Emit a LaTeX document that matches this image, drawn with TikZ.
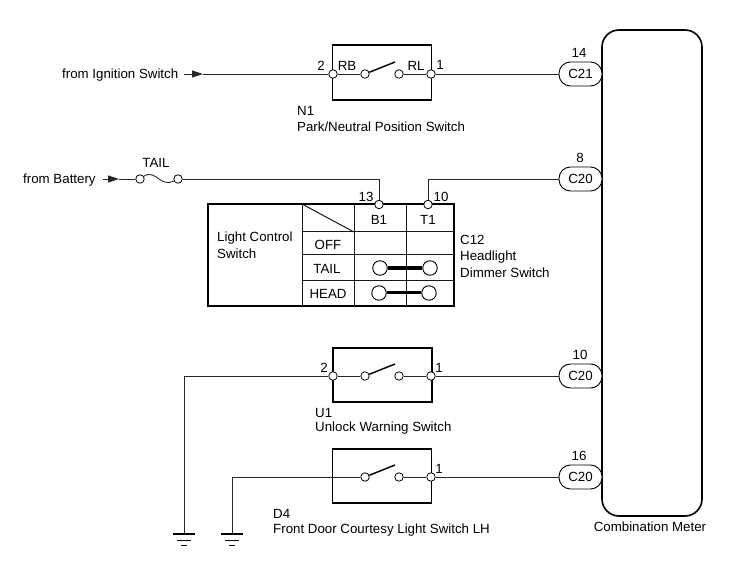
\documentclass[tikz,border=0pt]{standalone}
\usepackage{fontspec}
\setmainfont{Liberation Sans}
\usetikzlibrary{arrows.meta,calc}
\tikzset{
  wire/.style={line width=0.9pt,draw=black!85},
  heavy/.style={line width=1.6pt,draw=black},
  grid line/.style={line width=1pt,draw=black!90},
  term/.style={circle,draw=black,line width=0.8pt,fill=white,inner sep=0pt,minimum size=8.5pt},
  contact/.style={circle,draw=black,line width=0.8pt,fill=white,inner sep=0pt,minimum size=8.5pt},
  bigcontact/.style={circle,draw=black,line width=0.9pt,fill=white,inner sep=0pt,minimum size=14.5pt},
  txt/.style={inner sep=0pt,yshift=-0.6pt,font=\fontsize{13.3}{15}\selectfont},
  ltxt/.style={txt,anchor=west,yshift=-0.5pt},
  pill/.style={draw=black,line width=0.9pt,fill=white,rounded corners=11.5pt,minimum width=43pt,minimum height=24pt,inner sep=0pt,font=\fontsize{13.3}{15}\selectfont},
  blade/.style={line width=1.4pt,draw=black},
  swbox/.style={heavy,fill=white,minimum width=99pt,minimum height=54.5pt,inner sep=0pt,draw},
  arrowtip/.style={wire,-{Triangle[length=11pt,width=7pt]}}
}
\begin{document}
\begin{tikzpicture}[x=1pt,y=-1pt]
\useasboundingbox (0,0) rectangle (729,564);
% meter
\node[heavy,draw,minimum width=100pt,minimum height=486pt,rounded corners=17pt,inner sep=0pt] (meter) at (652,273) {};
\node[txt] (meterlbl) at (650,526) {Combination Meter};
% connectors pills
\node[pill] (p1) at (580.5,74) {C21};
\node[pill] (p2) at (580.5,179) {C20};
\node[pill] (p3) at (580.5,376) {C20};
\node[pill] (p4) at (580.5,477) {C20};
\node[txt] (n14) at (579,52) {14};
\node[txt] (n8) at (580,157) {8};
\node[txt] (n10b) at (580,354) {10};
\node[txt] (n16) at (579,455) {16};
% N1
\node[swbox] (n1box) at (382,72.5) {};
\node[term] (n1l) at (333,74) {};
\node[term] (n1r) at (431,74) {};
\node[contact] (n1a) at (365,74) {};
\node[contact] (n1b) at (399,74) {};
\coordinate (n1t) at (395,62);
\draw[blade] (n1a) -- (n1t);
\draw[wire] (n1l) -- (n1a);
\draw[wire] (n1b) -- (n1r);
\draw[wire] (n1r) -- (p1);
\node[txt] (n1pin2) at (321,65) {2};
\node[txt] (n1rb) at (347,65) {RB};
\node[txt] (n1rl) at (416,65) {RL};
\node[txt] (n1pin1) at (440,64) {1};
\node[ltxt] (n1name) at (297,110) {N1};
\node[ltxt] (n1desc) at (297,126) {Park/Neutral Position Switch};
% from ignition
\node[ltxt] (ign) at (62,73.5) {from Ignition Switch};
\coordinate (ign0) at (184,74);
\coordinate (ign1) at (203,74);
\draw[arrowtip] (ign0) -- (ign1);
\draw[wire] (ign1) -- (n1l);
% battery, fuse
\node[ltxt] (bat) at (23,179) {from Battery};
\coordinate (bat0) at (103,179);
\coordinate (bat1) at (119,179);
\draw[arrowtip] (bat0) -- (bat1);
\node[contact] (f1) at (140,179) {};
\node[contact] (f2) at (178,179) {};
\draw[wire] (bat1) -- (f1);
\draw[wire] (f1) .. controls (150,172) and (155,176) .. (159,179) .. controls (163,182) and (168,184) .. (f2);
\node[txt] (tail) at (156,162) {TAIL};
% table
\coordinate (tl) at (208,204);
\coordinate (br) at (454,306);
\coordinate (c1t) at (302,204);
\coordinate (c1b) at (302,306);
\coordinate (c2t) at (354,204);
\coordinate (c2b) at (354,306);
\coordinate (c3t) at (406,204);
\coordinate (c3b) at (406,306);
\coordinate (r1l) at (302,232);
\coordinate (r1r) at (454,232);
\coordinate (r2l) at (302,255);
\coordinate (r2r) at (454,255);
\coordinate (r3l) at (302,281);
\coordinate (r3r) at (454,281);
\draw[grid line] (c1t) -- (c1b);
\draw[grid line] (c2t) -- (c2b);
\draw[grid line] (c3t) -- (c3b);
\draw[grid line] (r1l) -- (r1r);
\draw[grid line] (r2l) -- (r2r);
\draw[grid line] (r3l) -- (r3r);
\draw[grid line] (c1t) -- (r1l -| c2t);
\draw[heavy] (tl) rectangle (br);
\node[term] (b1) at (379,204.5) {};
\node[term] (t1) at (428,204.5) {};
\draw[wire] (f2) -- (f2 -| b1) -- (b1);
\draw[wire] (t1) -- (t1 |- p2) -- (p2);
\node[txt] (pin13) at (366,196) {13};
\node[txt] (pin10) at (441,196) {10};
\node[txt] (hb1) at (379,219) {B1};
\node[txt] (ht1) at (428,219) {T1};
\node[txt] (off) at (328,244) {OFF};
\node[txt] (rtail) at (327,268) {TAIL};
\node[txt] (rhead) at (328,293) {HEAD};
\node[ltxt] (lc1) at (217,237) {Light Control};
\node[ltxt] (lc2) at (217,253) {Switch};
\node[ltxt] (c12a) at (460,239) {C12};
\node[ltxt] (c12b) at (460,256) {Headlight};
\node[ltxt] (c12c) at (460,272) {Dimmer Switch};
\node[bigcontact] (ta) at (380,268) {};
\node[bigcontact] (tb) at (430,268) {};
\draw[line width=3.4pt] (ta) -- (tb);
\node[bigcontact] (ha) at (379,293) {};
\node[bigcontact] (hb) at (429,293) {};
\draw[line width=3pt] (ha) -- (hb);
% U1
\node[swbox] (u1box) at (382.5,375) {};
\node[term] (u1l) at (333,376) {};
\node[term] (u1r) at (431,376) {};
\node[contact] (u1a) at (365,376) {};
\node[contact] (u1b) at (399,376) {};
\coordinate (u1t) at (395,364);
\draw[blade] (u1a) -- (u1t);
\draw[wire] (u1l) -- (u1a);
\draw[wire] (u1b) -- (u1r);
\draw[wire] (u1r) -- (p3);
\node[txt] (u1pin2) at (324,367) {2};
\node[txt] (u1pin1) at (439,367) {1};
\node[ltxt] (u1name) at (315,412) {U1};
\node[ltxt] (u1desc) at (315,427) {Unlock Warning Switch};
% D4
\node[swbox] (d4box) at (382,476) {};
\node[term] (d4r) at (431,477) {};
\node[contact] (d4a) at (365,477) {};
\node[contact] (d4b) at (399,477) {};
\coordinate (d4t) at (395,465);
\draw[blade] (d4a) -- (d4t);
\draw[wire] (d4b) -- (d4r);
\draw[wire] (d4r) -- (p4);
\node[txt] (d4pin1) at (439,468) {1};
\node[ltxt] (d4name) at (273,513) {D4};
\node[ltxt] (d4desc) at (273,529) {Front Door Courtesy Light Switch LH};
% grounds
\coordinate (g1) at (184,534);
\coordinate (g2) at (232,534);
\draw[wire] (u1l) -- (u1l -| g1) -- (g1);
\draw[wire] (d4a) -- (d4a -| g2) -- (g2);
\foreach \g in {g1,g2}{
  \draw[line width=1.4pt] ($(\g)+(-11,0)$) -- ($(\g)+(11,0)$);
  \draw[line width=0.9pt] ($(\g)+(-7,6)$) -- ($(\g)+(7,6)$);
  \draw[line width=0.9pt] ($(\g)+(-3,11.5)$) -- ($(\g)+(3,11.5)$);
}
\end{tikzpicture}
\end{document}
